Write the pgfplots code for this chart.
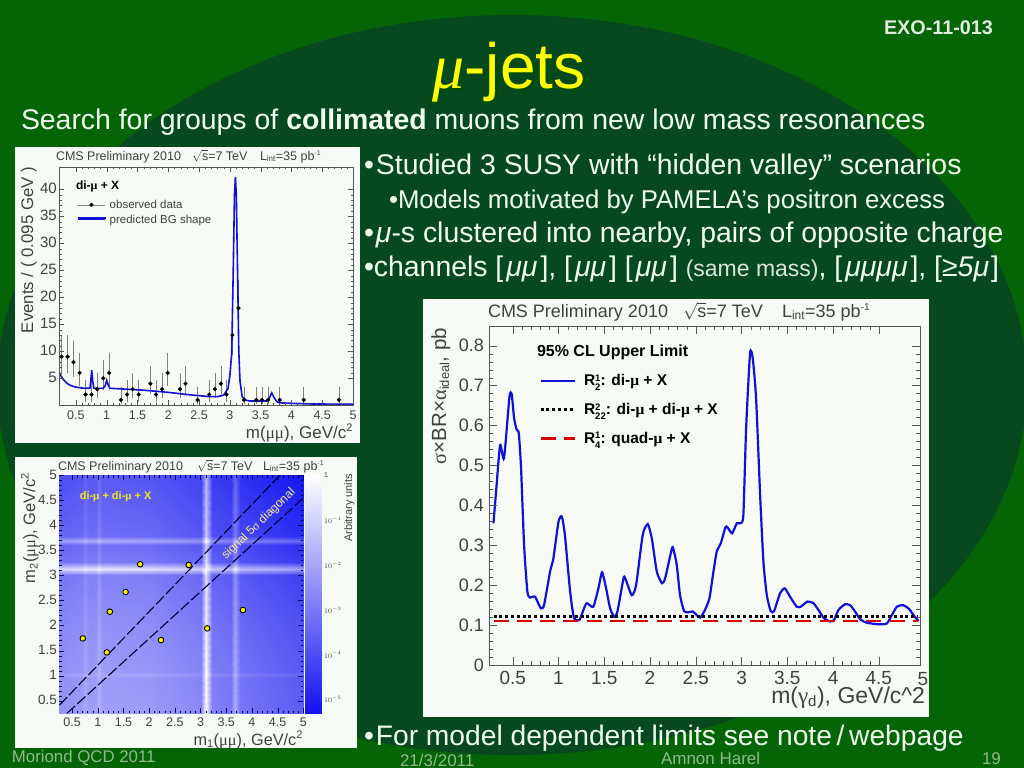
\documentclass[border=0pt]{standalone}
\usepackage{fontspec}
\setmainfont{Liberation Sans}
\newfontfamily\serif{Liberation Serif}
\usepackage{pgfplots}
\pgfplotsset{compat=1.18}
\definecolor{slidegreen}{HTML}{056405}
\definecolor{ellgreen}{HTML}{07491F}
\definecolor{panel}{HTML}{F6FBF6}
\definecolor{txt}{HTML}{F0FFF0}
\definecolor{chartgray}{HTML}{404040}
\definecolor{tickgray}{HTML}{555555}
\definecolor{cblue}{HTML}{1010D8}
\definecolor{title}{HTML}{FFFF00}
\newcommand{\fs}[1]{\fontsize{#1}{#1}\selectfont}
\newcommand{\mmu}{{\serif μ}}
\newcommand{\supsub}[2]{\leavevmode\rlap{\raisebox{0.55ex}{\fs{9.5}#1}}\raisebox{-0.6ex}{\fs{9.5}#2}}
\newcommand{\bmu}[1]{[\kern3pt\textit{#1}\kern3pt]}
\pgfplotsset{
 rootaxis/.style={scale only axis, axis on top, tick align=inside,
   axis line style={tickgray}, tick style={tickgray}, minor tick num=4,
   /pgf/number format/assume math mode=true,
   typeset ticklabels with strut,
   tick label style={text=chartgray}}
}
\begin{document}
\begin{tikzpicture}
\begin{scope}[x=1pt,y=-1pt]
\useasboundingbox (0,0) rectangle (1024,768);
\fill[slidegreen] (0,0) rectangle (1024,768);
\begin{scope}
\clip (0,0) rectangle (1024,768);
\fill[ellgreen] (512,385) ellipse [x radius=515, y radius=370];
\end{scope}
\fill[panel] (15,147) rectangle (360,443);
\fill[panel] (15,457) rectangle (357,748);
\fill[panel] (423,299) rectangle (929,717);
\end{scope}

% ---------- chart 1
\begin{axis}[rootaxis, at={(59.3pt,-405.3pt)}, anchor=south west, width=293.7pt, height=238.6pt,
  xmin=0.23, xmax=5, ymin=0, ymax=44.2,
  xtick={0.5,1,1.5,2,2.5,3,3.5,4,4.5,5}, xticklabels={0.5,1,1.5,2,2.5,3,3.5,4,4.5,5},
  ytick={5,10,15,20,25,30,35,40}, yticklabels={5,10,15,20,25,30,35,40},
  major tick length=5pt, minor tick length=2.5pt,
  x tick label style={font=\fs{12.5}, yshift=-2pt},
  y tick label style={font=\fs{15}, xshift=1pt, yshift=-1.5pt},
  legend style={at={(rel axis cs:0.06,0.87)}, anchor=north west, draw=none, fill=none, inner sep=0pt, row sep=1pt, font=\fs{11.5}, text=chartgray},
  legend cell align=left,
  legend image code/.code={\draw[#1] (0pt,0pt)--(27pt,0pt);}]
\addplot[only marks, mark=*, mark size=1.9pt, black,
  legend image code/.code={\draw[gray,line width=0.5pt] (0pt,0pt)--(27pt,0pt); \fill[black] (13.5pt,0pt) circle (1.9pt);},
  error bars/.cd, y dir=both, y explicit, error bar style={gray, line width=0.5pt}, error mark=none]
 table[x index=0, y index=1, y error plus index=2, y error minus index=3] {
0.267 9 4.1 3.0
0.365 9 4.1 3.0
0.46 8 3.9 2.8
0.56 6 3.6 2.4
0.657 2 2.6 1.3
0.754 2 2.6 1.3
0.846 3 2.9 1.6
0.944 5 3.4 2.2
1.04 6 3.6 2.4
1.23 1 2.3 0.83
1.33 2 2.6 1.3
1.42 3 2.9 1.6
1.52 2 2.6 1.3
1.71 4 3.2 1.9
1.80 2 2.6 1.3
1.90 3 2.9 1.6
1.99 6 3.6 2.4
2.19 3 2.9 1.6
2.28 4 3.2 1.9
2.475 1 2.3 0.83
2.665 2 2.6 1.3
2.757 3 2.9 1.6
2.854 4 3.2 1.9
2.946 2 2.6 1.3
3.04 13 4.7 3.6
3.14 18 5.3 4.2
3.23 1 2.3 0.83
3.43 1 2.3 0.83
3.52 1 2.3 0.83
3.62 1 2.3 0.83
3.81 1 2.3 0.83
4.2 1 2.3 0.83
4.77 1 2.3 0.83
};
\addlegendentry{\hspace{2pt}observed data}
\addplot[cblue, line width=1.6pt] coordinates {
(0.23,6.1) (0.26,5.4) (0.294,4.8) (0.335,4.3) (0.376,3.9) (0.43,3.6) (0.484,3.4) (0.6,3.2) (0.70,3.15) (0.727,3.2) (0.742,4.6) (0.757,6.5) (0.772,4.6) (0.79,3.2) (0.85,3.1) (0.94,3.15) (0.975,3.6) (1.0,4.6) (1.02,3.9) (1.05,3.15) (1.3,3.0) (1.6,2.8) (2.0,2.4) (2.3,2.0) (2.675,1.6) (2.8,1.6) (2.9,1.9) (2.97,3.1) (3.0,5.5) (3.03,9.6) (3.055,25) (3.075,39) (3.09,42.3) (3.105,39) (3.125,25) (3.145,10) (3.165,4.5) (3.2,1.6) (3.26,0.95) (3.32,0.8) (3.6,0.8) (3.64,1.3) (3.68,2.3) (3.72,1.4) (3.76,0.7) (3.81,0.45) (4.3,0.25) (5,0.2)};
\addlegendentry{\hspace{2pt}predicted BG shape}
\end{axis}

% ---------- chart 2 heat map
\begin{axis}[rootaxis, at={(59.3pt,-713.3pt)}, anchor=south west, width=244pt, height=238.3pt,
  xmin=0.25, xmax=5, ymin=0.25, ymax=5,
  colormap={bw}{rgb255(0)=(18,18,240); rgb255(1)=(255,255,255)}, point meta min=0, point meta max=1,
  xtick={0.5,1,1.5,2,2.5,3,3.5,4,4.5,5}, xticklabels={0.5,1,1.5,2,2.5,3,3.5,4,4.5,5},
  ytick={0.5,1,1.5,2,2.5,3,3.5,4,4.5,5}, yticklabels={0.5,1,1.5,2,2.5,3,3.5,4,4.5,5},
  major tick length=5pt, minor tick length=2.5pt,
  axis line style={draw=none}, tick style={color=black!60!blue},
  x tick label style={font=\fs{12.5}, yshift=-1pt},
  y tick label style={font=\fs{13.5}, xshift=1pt, yshift=-1.5pt}]
\addplot[surf, shader=interp, mesh/cols=15, point meta=explicit] coordinates {
(0.25,0.25)[.55] (0.70,0.25)[.58] (0.76,0.25)[.64] (0.82,0.25)[.585] (0.96,0.25)[.60] (1.02,0.25)[.68] (1.08,0.25)[.60] (2.0,0.25)[.58] (3.0,0.25)[.50] (3.11,0.25)[.98] (3.22,0.25)[.47] (3.6,0.25)[.44] (3.68,0.25)[.655] (3.76,0.25)[.43] (5.0,0.25)[.32]
(0.25,0.95)[.53] (0.70,0.95)[.56] (0.76,0.95)[.62] (0.82,0.95)[.565] (0.96,0.95)[.58] (1.02,0.95)[.66] (1.08,0.95)[.58] (2.0,0.95)[.56] (3.0,0.95)[.48] (3.11,0.95)[.96] (3.22,0.95)[.45] (3.6,0.95)[.42] (3.68,0.95)[.635] (3.76,0.95)[.41] (5.0,0.95)[.30]
(0.25,1.02)[.58] (0.70,1.02)[.61] (0.76,1.02)[.67] (0.82,1.02)[.615] (0.96,1.02)[.63] (1.02,1.02)[.71] (1.08,1.02)[.63] (2.0,1.02)[.61] (3.0,1.02)[.53] (3.11,1.02)[1] (3.22,1.02)[.50] (3.6,1.02)[.47] (3.68,1.02)[.685] (3.76,1.02)[.46] (5.0,1.02)[.35]
(0.25,1.09)[.53] (0.70,1.09)[.56] (0.76,1.09)[.62] (0.82,1.09)[.565] (0.96,1.09)[.58] (1.02,1.09)[.66] (1.08,1.09)[.58] (2.0,1.09)[.56] (3.0,1.09)[.48] (3.11,1.09)[.96] (3.22,1.09)[.45] (3.6,1.09)[.42] (3.68,1.09)[.635] (3.76,1.09)[.41] (5.0,1.09)[.30]
(0.25,2.0)[.49] (0.70,2.0)[.52] (0.76,2.0)[.58] (0.82,2.0)[.525] (0.96,2.0)[.54] (1.02,2.0)[.62] (1.08,2.0)[.54] (2.0,2.0)[.52] (3.0,2.0)[.44] (3.11,2.0)[.92] (3.22,2.0)[.41] (3.6,2.0)[.38] (3.68,2.0)[.595] (3.76,2.0)[.37] (5.0,2.0)[.26]
(0.25,3.0)[.42] (0.70,3.0)[.45] (0.76,3.0)[.51] (0.82,3.0)[.455] (0.96,3.0)[.47] (1.02,3.0)[.55] (1.08,3.0)[.47] (2.0,3.0)[.45] (3.0,3.0)[.37] (3.11,3.0)[.85] (3.22,3.0)[.34] (3.6,3.0)[.31] (3.68,3.0)[.525] (3.76,3.0)[.30] (5.0,3.0)[.19]
(0.25,3.13)[.84] (0.70,3.13)[.87] (0.76,3.13)[.93] (0.82,3.13)[.875] (0.96,3.13)[.89] (1.02,3.13)[.97] (1.08,3.13)[.89] (2.0,3.13)[.87] (3.0,3.13)[.79] (3.11,3.13)[1] (3.22,3.13)[.76] (3.6,3.13)[.73] (3.68,3.13)[.94] (3.76,3.13)[.72] (5.0,3.13)[.61]
(0.25,3.26)[.40] (0.70,3.26)[.43] (0.76,3.26)[.49] (0.82,3.26)[.435] (0.96,3.26)[.45] (1.02,3.26)[.53] (1.08,3.26)[.45] (2.0,3.26)[.43] (3.0,3.26)[.35] (3.11,3.26)[.83] (3.22,3.26)[.32] (3.6,3.26)[.29] (3.68,3.26)[.505] (3.76,3.26)[.28] (5.0,3.26)[.17]
(0.25,3.6)[.35] (0.70,3.6)[.38] (0.76,3.6)[.44] (0.82,3.6)[.385] (0.96,3.6)[.40] (1.02,3.6)[.48] (1.08,3.6)[.40] (2.0,3.6)[.38] (3.0,3.6)[.30] (3.11,3.6)[.78] (3.22,3.6)[.27] (3.6,3.6)[.24] (3.68,3.6)[.455] (3.76,3.6)[.23] (5.0,3.6)[.12]
(0.25,3.69)[.595] (0.70,3.69)[.625] (0.76,3.69)[.685] (0.82,3.69)[.63] (0.96,3.69)[.645] (1.02,3.69)[.725] (1.08,3.69)[.645] (2.0,3.69)[.625] (3.0,3.69)[.545] (3.11,3.69)[1] (3.22,3.69)[.515] (3.6,3.69)[.485] (3.68,3.69)[.70] (3.76,3.69)[.475] (5.0,3.69)[.365]
(0.25,3.78)[.34] (0.70,3.78)[.37] (0.76,3.78)[.43] (0.82,3.78)[.375] (0.96,3.78)[.39] (1.02,3.78)[.47] (1.08,3.78)[.39] (2.0,3.78)[.37] (3.0,3.78)[.29] (3.11,3.78)[.77] (3.22,3.78)[.26] (3.6,3.78)[.23] (3.68,3.78)[.445] (3.76,3.78)[.22] (5.0,3.78)[.11]
(0.25,5.0)[.25] (0.70,5.0)[.28] (0.76,5.0)[.34] (0.82,5.0)[.285] (0.96,5.0)[.30] (1.02,5.0)[.38] (1.08,5.0)[.30] (2.0,5.0)[.28] (3.0,5.0)[.20] (3.11,5.0)[.68] (3.22,5.0)[.17] (3.6,5.0)[.14] (3.68,5.0)[.355] (3.76,5.0)[.13] (5.0,5.0)[.02]
};
\addplot[black!80!blue, line width=1.1pt, dash pattern=on 11pt off 3pt] coordinates {(0.25,0.41) (4.55,5)};
\addplot[black!80!blue, line width=1.1pt, dash pattern=on 11pt off 3pt] coordinates {(0.40,0.25) (5,4.54)};
\addplot[only marks, mark=*, mark size=2.8pt, mark options={fill=yellow, draw=black, line width=0.9pt}] coordinates {
(0.708,1.743) (1.175,1.464) (1.234,2.275) (1.54,2.668) (1.825,3.22) (2.23,1.71) (2.77,3.206) (3.13,1.943) (3.825,2.31)};
\node[rotate=44, text=yellow!45!white!90!gray, font=\fs{12}] at (axis cs:4.13,4.02) {signal 5{\serif σ} diagonal};
\node[anchor=base west, text=yellow!90!gray, font=\bfseries\fs{11}] at (axis cs:0.58,4.52) {di-\mmu{} + di-\mmu{} + X};
\end{axis}

% ---------- colour bar
\begin{axis}[scale only axis, at={(305pt,-713.3pt)}, anchor=south west, width=16.7pt, height=238.3pt,
  xmin=0, xmax=1, ymode=log, ymin=5e-6, ymax=1, xtick=\empty,
  colormap={bw}{rgb255(0)=(18,18,240); rgb255(1)=(255,255,255)}, point meta min=0, point meta max=1,
  axis line style={draw=none}, tick align=inside, ytick pos=right, yticklabel pos=right,
  tick style={color=tickgray}, major tick length=10pt, minor tick length=5pt,
  ytick={1,0.1,0.01,0.001,0.0001,0.00001},
  yticklabels={1,$10^{-1}$,$10^{-2}$,$10^{-3}$,$10^{-4}$,$10^{-5}$},
  y tick label style={font=\fs{7}, text=chartgray, xshift=-1pt}]
\addplot[surf, shader=interp, mesh/cols=2, point meta=explicit] coordinates {
(0,5e-6)[0] (1,5e-6)[0]
(0,1)[1] (1,1)[1]};
\end{axis}

% ---------- chart 3
\begin{axis}[rootaxis, at={(489.3pt,-665pt)}, anchor=south west, width=430.7pt, height=339.3pt,
  xmin=0.244, xmax=4.95, ymin=0, ymax=0.85,
  xtick={0.5,1,1.5,2,2.5,3,3.5,4,4.5}, xticklabels={0.5,1,1.5,2,2.5,3,3.5,4,4.5},
  ytick={0,0.1,0.2,0.3,0.4,0.5,0.6,0.7,0.8}, yticklabels={0,0.1,0.2,0.3,0.4,0.5,0.6,0.7,0.8},
  major tick length=8pt, minor tick length=4pt,
  x tick label style={font=\fs{19}, yshift=-3pt},
  y tick label style={font=\fs{18}, xshift=-2pt, yshift=-2.5pt},
  legend style={at={(rel axis cs:0.115,0.862)}, anchor=north west, draw=none, fill=none, inner sep=0pt, row sep=12pt, font=\bfseries\fs{15.5}, text=black},
  legend cell align=left,
  legend image code/.code={\draw[#1] (0pt,0pt)--(34pt,0pt);}]
\addplot[cblue, line width=2.2pt, smooth, tension=0.35] coordinates {
(0.289,0.355) (0.318,0.434) (0.362,0.551) (0.405,0.518) (0.464,0.672) (0.489,0.678) (0.515,0.618) (0.544,0.589) (0.566,0.581) (0.591,0.493) (0.624,0.30) (0.66,0.184) (0.689,0.169) (0.744,0.171) (0.806,0.142) (0.842,0.15) (0.908,0.234) (0.944,0.267) (1.0,0.359) (1.036,0.372) (1.07,0.326) (1.127,0.184) (1.17,0.117) (1.229,0.113) (1.272,0.138) (1.309,0.155) (1.38,0.146) (1.436,0.192) (1.476,0.232) (1.52,0.192) (1.564,0.142) (1.607,0.121) (1.644,0.134) (1.71,0.217) (1.73,0.217) (1.80,0.175) (1.848,0.2) (1.92,0.326) (1.975,0.353) (2.02,0.317) (2.074,0.234) (2.13,0.205) (2.165,0.217) (2.238,0.291) (2.255,0.291) (2.292,0.251) (2.328,0.175) (2.372,0.135) (2.419,0.132) (2.467,0.134) (2.547,0.119) (2.60,0.138) (2.649,0.167) (2.693,0.234) (2.729,0.284) (2.773,0.305) (2.824,0.345) (2.846,0.345) (2.897,0.33) (2.948,0.355) (2.99,0.355) (3.02,0.376) (3.05,0.593) (3.093,0.781) (3.122,0.769) (3.159,0.668) (3.203,0.426) (3.239,0.259) (3.276,0.175) (3.319,0.135) (3.356,0.135) (3.421,0.18) (3.472,0.192) (3.53,0.171) (3.603,0.146) (3.647,0.146) (3.72,0.159) (3.785,0.155) (3.84,0.138) (3.902,0.117) (3.968,0.109) (4.011,0.113) (4.059,0.138) (4.13,0.152) (4.186,0.15) (4.24,0.134) (4.295,0.115) (4.368,0.106) (4.496,0.102) (4.587,0.104) (4.642,0.125) (4.697,0.146) (4.762,0.15) (4.824,0.142) (4.879,0.125) (4.933,0.11)};
\addlegendentry{\hspace{6pt}R\supsub{1}{2}: di-\mmu{} + X}
\addplot[black, line width=3pt, dash pattern=on 3pt off 2.8pt] coordinates {(0.29,0.121) (4.93,0.121)};
\addlegendentry{\hspace{6pt}R\supsub{2}{22}: di-\mmu{} + di-\mmu{} + X}
\addplot[red!85!black, line width=2.4pt, dash pattern=on 15pt off 8.3pt] coordinates {(0.29,0.11) (4.93,0.11)};
\addlegendentry{\hspace{6pt}R\supsub{1}{4}: quad-\mmu{} + X}
\end{axis}

% ---------- text
\begin{scope}[x=1pt,y=-1pt, every node/.style={inner sep=0pt, outer sep=0pt}]
% slide
\node[anchor=base west, text=black!70!green, font=\fs{64}] at (434.5,90.5) {{\serif\itshape μ}-jets};
\node[anchor=base west, text=title, font=\fs{64}] at (432.5,88) {{\serif\itshape μ}-jets};
\node[anchor=base west, text=txt!85!gray, font=\bfseries\fs{19.8}] at (884,35) {EXO-11-013};
\node[anchor=base west, text=txt, font=\fs{28.4}] at (21,129) {Search for groups of \textbf{collimated} muons from new low mass resonances};
\node[anchor=base west, text=txt, font=\fs{28.4}] at (364,174) {•\kern2pt Studied 3 SUSY with “hidden valley” scenarios};
\node[anchor=base west, text=txt, font=\fs{25.7}] at (389,208) {•Models motivated by PAMELA’s positron excess};
\node[anchor=base west, text=txt, font=\fs{28.4}] at (364,242) {•\kern2pt\textit{μ}-s clustered into nearby, pairs of opposite charge};
\node[anchor=base west, text=txt, font=\fs{28.4}] at (364,276) {•channels \bmu{μμ}, \bmu{μμ} \bmu{μμ} {\fs{23}\color{txt!80!gray}(same mass)}, \bmu{μμμμ}, [\textit{≥5μ}\kern2pt]};
\node[anchor=base west, text=txt, font=\fs{28.2}] at (364,745) {•\kern2pt For model dependent limits see note\,/\,webpage};
\node[anchor=base west, text=white!55!slidegreen, font=\fs{16.8}] at (12,762) {Moriond QCD 2011};
\node[anchor=base west, text=white!55!slidegreen, font=\fs{17}] at (400,766) {21/3/2011};
\node[anchor=base west, text=white!55!slidegreen, font=\fs{17}] at (661,764) {Amnon Harel};
\node[anchor=base west, text=white!55!slidegreen, font=\fs{17}] at (982,764) {19};
% chart 1 text
\draw[cblue, line width=1.9pt] (78.4,218.4)--(105.6,218.4);
\node[anchor=base west, text=chartgray, font=\fs{12.5}] at (56,160) {CMS Preliminary 2010};
\node[anchor=base west, text=chartgray, font=\fs{12.5}] at (192,160) {$\sqrt{\mbox{s}}$=7 TeV};
\node[anchor=base west, text=chartgray, font=\fs{12.5}] at (260,160) {L$_{\mbox{\fs{8}int}}$=35 pb$^{\mbox{\fs{7}-1}}$};
\node[anchor=base, rotate=90, text=chartgray, font=\fs{16.8}] at (33,250) {Events / ( 0.095 GeV )};
\node[anchor=base east, text=chartgray, font=\fs{17}] at (353,438) {m(\mmu\mmu), GeV/c$^{\mbox{\fs{11}2}}$};
\node[anchor=base west, text=black, font=\bfseries\fs{12}] at (76,189) {di-\mmu{} + X};
% chart 2 text
\node[anchor=base west, text=chartgray, font=\fs{12.5}] at (58,470) {CMS Preliminary 2010};
\node[anchor=base west, text=chartgray, font=\fs{12.5}] at (197,470) {$\sqrt{\mbox{s}}$=7 TeV};
\node[anchor=base west, text=chartgray, font=\fs{12.5}] at (263,470) {L$_{\mbox{\fs{8}int}}$=35 pb$^{\mbox{\fs{7}-1}}$};
\node[anchor=base, rotate=90, text=chartgray, font=\fs{16.5}] at (35,528) {m$_{\mbox{\fs{11}2}}$(\mmu\mmu), GeV/c$^{\mbox{\fs{11}2}}$};
\node[anchor=base east, text=chartgray, font=\fs{16.3}] at (303,745) {m$_{\mbox{\fs{11}1}}$(\mmu\mmu), GeV/c$^{\mbox{\fs{11}2}}$};
\node[anchor=base, rotate=90, text=chartgray, font=\fs{11}] at (352,508) {Arbitrary units};
% chart 3 text
\node[anchor=base west, text=chartgray, font=\fs{18}] at (488,317) {CMS Preliminary 2010};
\node[anchor=base west, text=chartgray, font=\fs{18}] at (683,317) {$\sqrt{\mbox{s}}$=7 TeV};
\node[anchor=base west, text=chartgray, font=\fs{18}] at (782,317) {L$_{\mbox{\fs{12}int}}$=35 pb$^{\mbox{\fs{10}-1}}$};
\node[anchor=base west, text=black, font=\bfseries\fs{16}] at (537,356) {95\% CL Upper Limit};
\node[anchor=base, rotate=90, text=chartgray, font=\fs{20.5}] at (446,396) {{\serif σ}×BR×{\serif α}$_{\mbox{\fs{13}ideal}}$, pb};
\node[anchor=base east, text=chartgray, font=\fs{23}] at (925,703) {m({\serif γ}$_{\mbox{\fs{15}d}}$), GeV/c\textasciicircum 2};
\node[anchor=base, text=chartgray, font=\fs{19}] at (923,685) {5};
\end{scope}
\end{tikzpicture}
\end{document}
